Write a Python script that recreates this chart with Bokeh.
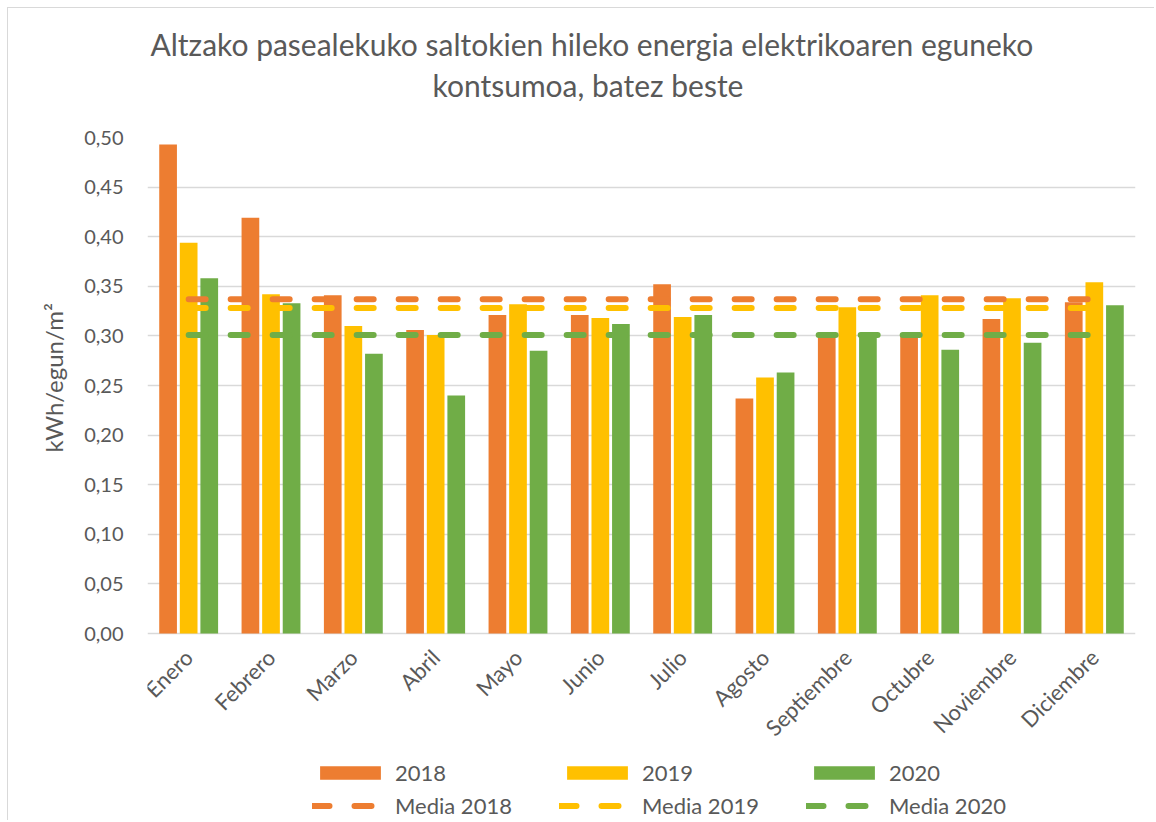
import math
from bokeh.plotting import figure
from bokeh.models import (FactorRange, Range1d, FixedTicker, CustomJSTickFormatter,
                          Legend, LegendItem, Title, ColumnDataSource)
from bokeh.core.properties import value
from bokeh.transform import dodge
from bokeh.embed import file_html
from bokeh.resources import INLINE

# ---------------- data ----------------
months = ["Enero", "Febrero", "Marzo", "Abril", "Mayo", "Junio", "Julio",
          "Agosto", "Septiembre", "Octubre", "Noviembre", "Diciembre"]
v2018 = [0.493, 0.419, 0.341, 0.306, 0.321, 0.321, 0.352, 0.237, 0.301, 0.302, 0.317, 0.334]
v2019 = [0.394, 0.342, 0.310, 0.301, 0.332, 0.318, 0.319, 0.258, 0.329, 0.341, 0.338, 0.354]
v2020 = [0.358, 0.333, 0.282, 0.240, 0.285, 0.312, 0.321, 0.263, 0.303, 0.286, 0.293, 0.331]
media_2018 = 0.337
media_2019 = 0.328
media_2020 = 0.301
y_ticks = [0.0, 0.05, 0.10, 0.15, 0.20, 0.25, 0.30, 0.35, 0.40, 0.45, 0.50]
series_labels = ["2018", "2019", "2020", "Media 2018", "Media 2019", "Media 2020"]
title_line1 = "Altzako pasealekuko saltokien hileko energia elektrikoaren eguneko"
title_line2 = "kontsumoa, batez beste"
y_label = "kWh/egun/m²"

# ---------------- style ----------------
FONT = "Lato"
TEXT = "#595959"
GRID = "#d9d9d9"
C18, C19, C20 = "#ED7D31", "#FFC000", "#70AD47"
Y_TOP = 0.5
Y_BOTTOM = -0.1875        # frame continues below 0 to hold labels and legend
X_LABEL_Y = -0.02         # where rotated month labels are anchored

src = ColumnDataSource(dict(
    month=months, v2018=v2018, v2019=v2019, v2020=v2020,
    m2018=[media_2018] * len(months),
    m2019=[media_2019] * len(months),
    m2020=[media_2020] * len(months),
    label_y=[X_LABEL_Y] * len(months),
))

p = figure(x_range=FactorRange(*months), y_range=Range1d(Y_BOTTOM, Y_TOP),
           width=1147, height=813, output_backend="svg", toolbar_location=None,
           title=None, min_border_left=139, min_border_right=20,
           min_border_top=129, min_border_bottom=2)
p.styles = {"margin-left": "7px", "margin-top": "7px",
            "border-left": "1px solid #d9d9d9", "border-top": "1px solid #d9d9d9"}
p.outline_line_color = None
p.background_fill_color = "white"
p.border_fill_color = "white"

BW = 0.215
r18 = p.vbar(x=dodge("month", -0.25, range=p.x_range), top="v2018", width=BW,
             source=src, fill_color=C18, line_color=None)
r19 = p.vbar(x=dodge("month", 0.0, range=p.x_range), top="v2019", width=BW,
             source=src, fill_color=C19, line_color=None)
r20 = p.vbar(x=dodge("month", 0.25, range=p.x_range), top="v2020", width=BW,
             source=src, fill_color=C20, line_color=None)

LD = "17 25"
l18 = p.line(x="month", y="m2018", source=src, line_color=C18, line_width=6,
             line_dash=LD, line_cap="round")
l19 = p.line(x="month", y="m2019", source=src, line_color=C19, line_width=6,
             line_dash=LD, line_cap="round")
l20 = p.line(x="month", y="m2020", source=src, line_color=C20, line_width=6,
             line_dash=LD, line_cap="round")

# rotated month labels under the category axis
p.text(x="month", y="label_y", text="month", source=src, angle=math.pi / 4,
       text_align="right", text_baseline="middle", text_font=value(FONT),
       text_font_size="22px", text_color=TEXT)

# grid
p.xgrid.visible = False
p.ygrid.ticker = FixedTicker(ticks=y_ticks)
p.ygrid.grid_line_color = GRID
p.ygrid.grid_line_width = 1.5

# x axis: labels drawn above, the axis itself hidden
p.xaxis.visible = False

# y axis
yax = p.yaxis[0]
yax.ticker = FixedTicker(ticks=y_ticks)
yax.formatter = CustomJSTickFormatter(code="return tick.toFixed(2).replace('.', ',');")
yax.axis_line_color = None
yax.major_tick_line_color = None
yax.minor_tick_line_color = None
yax.major_tick_out = 0
yax.major_label_standoff = 24
yax.major_label_text_font = FONT
yax.major_label_text_font_size = "20px"
yax.major_label_text_color = TEXT

# y axis title
ytitle = Title(text=y_label, align="left", offset=367, standoff=28,
               text_font=FONT, text_font_size="24px", text_font_style="normal",
               text_color=TEXT)
p.add_layout(ytitle, "left")

# chart title (spacer closest to the frame, then line 2, then line 1)
spacer = Title(text="\u00a0", standoff=21, text_font=FONT, text_font_size="10px")
t2 = Title(text=title_line2, align="left", offset=285, standoff=0,
           text_font=FONT, text_font_size="30px", text_font_style="normal",
           text_color=TEXT)
t1 = Title(text=title_line1, align="left", offset=3, standoff=6,
           text_font=FONT, text_font_size="30px", text_font_style="normal",
           text_color=TEXT)
p.add_layout(spacer, "above")
p.add_layout(t2, "above")
p.add_layout(t1, "above")

# legend
legend = Legend(items=[
    LegendItem(label=series_labels[0], renderers=[r18]),
    LegendItem(label=series_labels[1], renderers=[r19]),
    LegendItem(label=series_labels[2], renderers=[r20]),
    LegendItem(label=series_labels[3], renderers=[l18]),
    LegendItem(label=series_labels[4], renderers=[l19]),
    LegendItem(label=series_labels[5], renderers=[l20]),
], ncols=3, orientation="horizontal", location=(165, 0),
    glyph_width=76, glyph_height=17, label_height=17, label_width=158,
    label_standoff=7, spacing=6, padding=0, margin=0,
    border_line_color=None, background_fill_alpha=0,
    label_text_font=FONT, label_text_font_size="22px", label_text_color=TEXT)
p.add_layout(legend, "center")

open("out.html", "w").write(file_html(p, INLINE))
